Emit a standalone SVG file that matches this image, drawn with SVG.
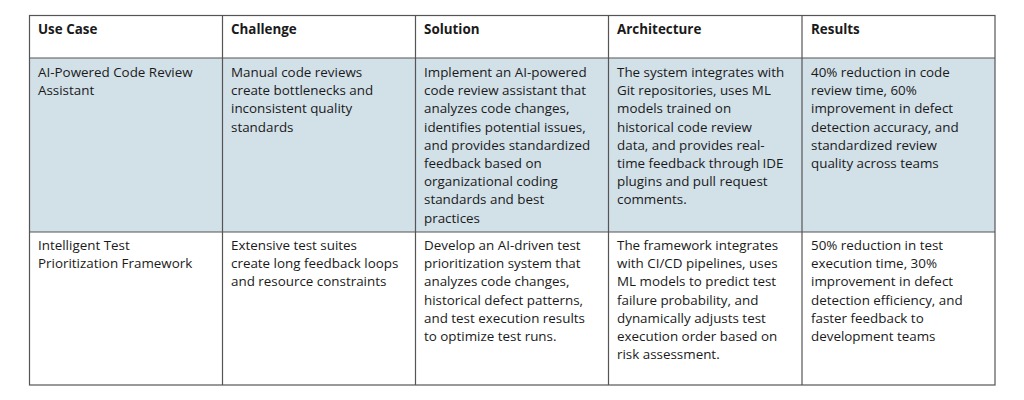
<svg xmlns="http://www.w3.org/2000/svg" width="1024" height="400" viewBox="0 0 1024 400">
<style>
text{font-family:"Open Sans","Liberation Sans",Arial,sans-serif;font-size:13.4px;fill:#1a1a1a}
.h{font-weight:bold}
.g{stroke:#555;stroke-width:1.2;fill:none}
</style>
<rect width="1024" height="400" fill="#fff"/>
<rect x="29.5" y="58" width="965.5" height="174" fill="#d2e0e8"/>
<g id="connectors" class="g">
<rect x="29.5" y="15.5" width="965.5" height="369.5"/>
<line x1="29.5" y1="58" x2="995" y2="58"/>
<line x1="29.5" y1="232" x2="995" y2="232"/>
<line x1="222.5" y1="15.5" x2="222.5" y2="385"/>
<line x1="415.5" y1="15.5" x2="415.5" y2="385"/>
<line x1="608.5" y1="15.5" x2="608.5" y2="385"/>
<line x1="802" y1="15.5" x2="802" y2="385"/>
</g>
<g id="header">
<text class="h" x="38" y="34">Use Case</text>
<text class="h" x="231" y="34">Challenge</text>
<text class="h" x="424" y="34">Solution</text>
<text class="h" x="617" y="34">Architecture</text>
<text class="h" x="811" y="34">Results</text>
</g>
<g id="row1">
<text x="38" y="77">AI-Powered Code Review<tspan x="38" dy="18.2">Assistant</tspan></text>
<text x="231" y="77">Manual code reviews<tspan x="231" dy="18.2">create bottlenecks and</tspan><tspan x="231" dy="18.2">inconsistent quality</tspan><tspan x="231" dy="18.2">standards</tspan></text>
<text x="424" y="77">Implement an AI-powered<tspan x="424" dy="18.2">code review assistant that</tspan><tspan x="424" dy="18.2">analyzes code changes,</tspan><tspan x="424" dy="18.2">identifies potential issues,</tspan><tspan x="424" dy="18.2">and provides standardized</tspan><tspan x="424" dy="18.2">feedback based on</tspan><tspan x="424" dy="18.2">organizational coding</tspan><tspan x="424" dy="18.2">standards and best</tspan><tspan x="424" dy="18.2">practices</tspan></text>
<text x="617" y="77">The system integrates with<tspan x="617" dy="18.2">Git repositories, uses ML</tspan><tspan x="617" dy="18.2">models trained on</tspan><tspan x="617" dy="18.2">historical code review</tspan><tspan x="617" dy="18.2">data, and provides real-</tspan><tspan x="617" dy="18.2">time feedback through IDE</tspan><tspan x="617" dy="18.2">plugins and pull request</tspan><tspan x="617" dy="18.2">comments.</tspan></text>
<text x="811" y="77">40% reduction in code<tspan x="811" dy="18.2">review time, 60%</tspan><tspan x="811" dy="18.2">improvement in defect</tspan><tspan x="811" dy="18.2">detection accuracy, and</tspan><tspan x="811" dy="18.2">standardized review</tspan><tspan x="811" dy="18.2">quality across teams</tspan></text>
</g>
<g id="row2">
<text x="38" y="250">Intelligent Test<tspan x="38" dy="18.2">Prioritization Framework</tspan></text>
<text x="231" y="250">Extensive test suites<tspan x="231" dy="18.2">create long feedback loops</tspan><tspan x="231" dy="18.2">and resource constraints</tspan></text>
<text x="424" y="250">Develop an AI-driven test<tspan x="424" dy="18.2">prioritization system that</tspan><tspan x="424" dy="18.2">analyzes code changes,</tspan><tspan x="424" dy="18.2">historical defect patterns,</tspan><tspan x="424" dy="18.2">and test execution results</tspan><tspan x="424" dy="18.2">to optimize test runs.</tspan></text>
<text x="617" y="250">The framework integrates<tspan x="617" dy="18.2">with CI/CD pipelines, uses</tspan><tspan x="617" dy="18.2">ML models to predict test</tspan><tspan x="617" dy="18.2">failure probability, and</tspan><tspan x="617" dy="18.2">dynamically adjusts test</tspan><tspan x="617" dy="18.2">execution order based on</tspan><tspan x="617" dy="18.2">risk assessment.</tspan></text>
<text x="811" y="250">50% reduction in test<tspan x="811" dy="18.2">execution time, 30%</tspan><tspan x="811" dy="18.2">improvement in defect</tspan><tspan x="811" dy="18.2">detection efficiency, and</tspan><tspan x="811" dy="18.2">faster feedback to</tspan><tspan x="811" dy="18.2">development teams</tspan></text>
</g>
</svg>
